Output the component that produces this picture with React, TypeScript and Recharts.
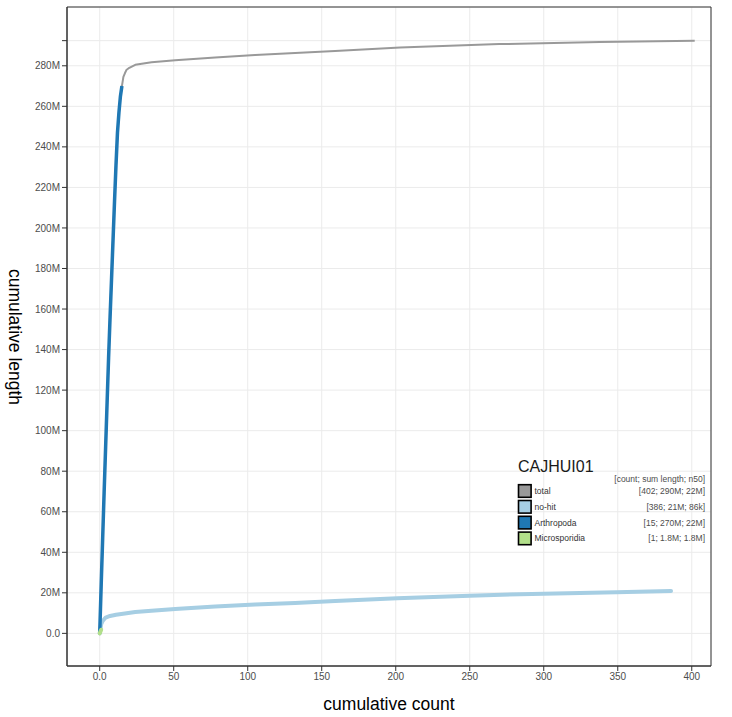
import React from 'react';
import { LineChart, Line, XAxis, YAxis, CartesianGrid, ReferenceArea } from 'recharts';

// cumulative count / cumulative length (M)
const totalCount = [0, 1, 2, 3, 4, 5, 6, 7, 8, 9, 10, 11, 12, 13, 14, 15, 16, 17, 18, 20, 24, 35, 51, 78, 105, 159, 203, 270, 338, 402];
const totalLength = [0, 24, 47, 70, 92, 114, 136, 156, 175, 194, 213, 231, 247, 257, 265, 270, 274.5, 276.3, 277.9, 279.0, 280.5, 281.7, 282.7, 284.1, 285.3, 287.3, 289.0, 290.7, 291.7, 292.4];

const nohitCount = [0, 1, 2, 4, 7, 11, 17, 24, 35, 51, 78, 105, 132, 159, 201, 250, 300, 349, 386];
const nohitLength = [0, 4.5, 6.1, 7.8, 8.6, 9.2, 9.8, 10.5, 11.2, 12.0, 13.2, 14.2, 15.0, 16.0, 17.3, 18.6, 19.6, 20.3, 20.9];

const arthCount = [0, 1, 2, 3, 4, 5, 6, 7, 8, 9, 10, 11, 12, 13, 14, 15];
const arthLength = [0, 24, 47, 70, 92, 114, 136, 156, 175, 194, 213, 231, 247, 257, 265, 270];

const microCount = [0, 1];
const microLength = [0, 1.8];

const xTicks = [0, 50, 100, 150, 200, 250, 300, 350, 400];
const yTicks = [0, 20, 40, 60, 80, 100, 120, 140, 160, 180, 200, 220, 240, 260, 280, 292.4];

const legendTitle = 'CAJHUI01';
const legendHeader = '[count; sum length; n50]';
const legendNames = ['total', 'no-hit', 'Arthropoda', 'Microsporidia'];
const legendStats = ['[402; 290M; 22M]', '[386; 21M; 86k]', '[15; 270M; 22M]', '[1; 1.8M; 1.8M]'];
const legendColors = ['#999999', '#a6cee3', '#1f78b4', '#b2df8a'];

const zip = (xs: number[], ys: number[]) => xs.map((x, i) => ({ x, y: ys[i] }));

const totalData = zip(totalCount, totalLength);
const nohitData = zip(nohitCount, nohitLength);
const arthData = zip(arthCount, arthLength);
const microData = zip(microCount, microLength);

const FONT = '"Liberation Sans", Arial, Helvetica, sans-serif';
const X_DOMAIN: [number, number] = [-22.1, 413.0];
const Y_DOMAIN: [number, number] = [-16.1, 309.0];

const fmtY = (v: number) => (v === 0 ? '0.0' : v > 290 ? '' : `${v}M`);
const fmtX = (v: number) => (v === 0 ? '0.0' : `${v}`);

export default function App() {
  return (
    <div style={{ position: 'absolute', left: 0, top: 0, width: 732, height: 717, background: '#fff', fontFamily: FONT }}>
      <LineChart
        width={732}
        height={717}
        margin={{ top: 7, right: 21, left: 0, bottom: 0 }}
        style={{ fontFamily: FONT }}
      >
        <CartesianGrid stroke="#ebebeb" strokeWidth={1} />
        <XAxis
          dataKey="x"
          type="number"
          domain={X_DOMAIN}
          ticks={xTicks}
          tickFormatter={fmtX}
          allowDataOverflow
          height={51}
          tickSize={5}
          tickMargin={2}
          axisLine={{ stroke: '#333333' }}
          tickLine={{ stroke: '#333333' }}
          tick={{ fontSize: 10, fill: '#4d4d4d', fontFamily: FONT }}
        />
        <YAxis
          dataKey="y"
          type="number"
          domain={Y_DOMAIN}
          ticks={yTicks}
          tickFormatter={fmtY}
          allowDataOverflow
          width={67}
          tickSize={5}
          tickMargin={2}
          axisLine={{ stroke: '#333333' }}
          tickLine={{ stroke: '#333333' }}
          tick={{ fontSize: 10, fill: '#4d4d4d', fontFamily: FONT }}
        />
        <ReferenceArea
          x1={X_DOMAIN[0]}
          x2={X_DOMAIN[1]}
          y1={Y_DOMAIN[0]}
          y2={Y_DOMAIN[1]}
          fill="none"
          fillOpacity={0}
          stroke="#333333"
          strokeWidth={1}
          ifOverflow="visible"
        />
        <Line data={totalData} dataKey="y" type="linear" stroke={legendColors[0]} strokeWidth={2} dot={false} isAnimationActive={false} strokeLinejoin="round" />
        <Line data={nohitData} dataKey="y" type="linear" stroke={legendColors[1]} strokeWidth={4} dot={false} isAnimationActive={false} strokeLinejoin="round" strokeLinecap="round" />
        <Line data={arthData} dataKey="y" type="linear" stroke={legendColors[2]} strokeWidth={3.5} dot={false} isAnimationActive={false} strokeLinejoin="round" />
        <Line data={microData} dataKey="y" type="linear" stroke={legendColors[3]} strokeWidth={4} dot={false} isAnimationActive={false} strokeLinejoin="round" strokeLinecap="round" />
      </LineChart>
      <svg
        width={732}
        height={717}
        style={{ position: 'absolute', left: 0, top: 0, pointerEvents: 'none', fontFamily: FONT }}
      >
        <text x={389} y={710} textAnchor="middle" fontSize={17.5} fill="#000">cumulative count</text>
        <text
          x={0}
          y={0}
          textAnchor="middle"
          fontSize={17.5}
          fill="#000"
          transform="translate(9,337) rotate(90)"
        >
          cumulative length
        </text>
        <text x={518} y={472} fontSize={16} fill="#1a1a1a">{legendTitle}</text>
        <text x={705} y={482} textAnchor="end" fontSize={8.5} fill="#4d4d4d">{legendHeader}</text>
        {legendNames.map((name, i) => {
          const cy = 491 + i * 15.8;
          return (
            <g key={name}>
              <rect x={518.5} y={cy - 6.3} width={12.6} height={12.6} fill={legendColors[i]} stroke="#000" strokeWidth={1.6} />
              <text x={534.5} y={cy + 3} fontSize={8.5} fill="#333">{name}</text>
              <text x={705} y={cy + 3} textAnchor="end" fontSize={8.5} fill="#4d4d4d">{legendStats[i]}</text>
            </g>
          );
        })}
      </svg>
    </div>
  );
}
